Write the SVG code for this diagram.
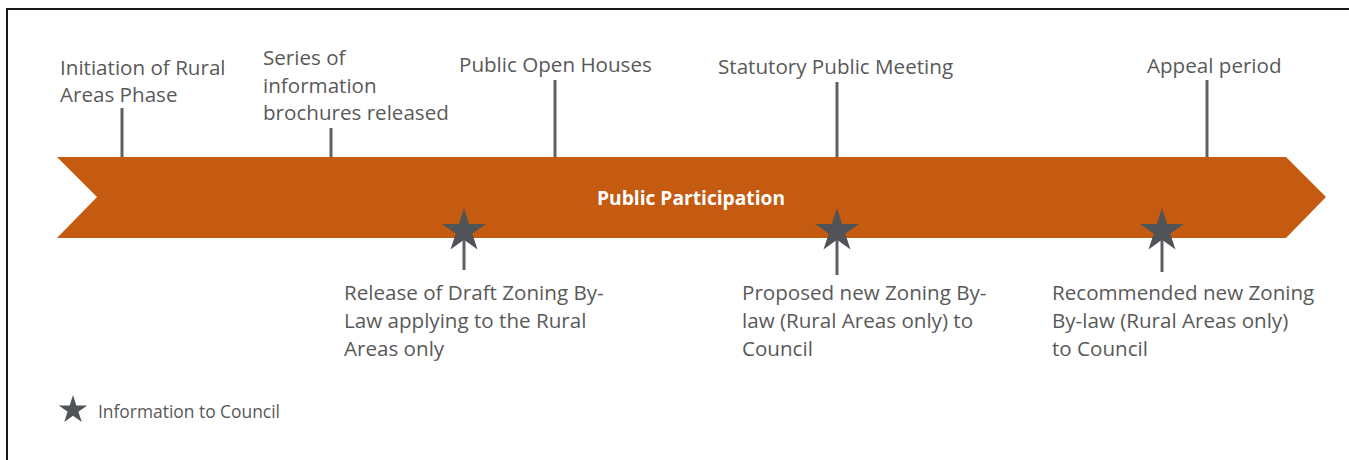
<svg xmlns="http://www.w3.org/2000/svg" width="1349" height="460" viewBox="0 0 1349 460">
  <style>
    .lbl { font-family: "Open Sans", "Liberation Sans", sans-serif; font-size: 20.6px; fill: #595959; }
    .band-title { font-family: "Open Sans", "Liberation Sans", sans-serif; font-size: 19.2px; font-weight: bold; fill: #ffffff; }
    .legend { font-family: "Open Sans", "Liberation Sans", sans-serif; font-size: 17.4px; fill: #595959; }
    .stem { stroke: #5f5f5f; stroke-width: 3; fill: none; }
    .star { fill: #505458; }
  </style>
  <defs>
    <!-- five-pointed star, outer radius 23, centred on the origin -->
    <polygon id="star" points="0,-23 5.1,-7 21.9,-7.1 8.3,2.7 13.5,18.6 0,8.8 -13.5,18.6 -8.3,2.7 -21.9,-7.1 -5.1,-7"/>
  </defs>

  <rect width="1349" height="460" fill="#ffffff"/>
  <!-- frame -->
  <path d="M7,460 V9 H1349" fill="none" stroke="#1a1a1a" stroke-width="2"/>

  <!-- timeline band -->
  <g id="band">
    <polygon points="57,157 1286,157 1326,197 1286,238 57,238 97,197" fill="#c55a11"/>
    <text class="band-title" x="691" y="205" text-anchor="middle">Public Participation</text>
  </g>

  <!-- stems connecting milestones to the band -->
  <g id="connectors">
    <line class="stem" x1="122" y1="108" x2="122" y2="157"/>
    <line class="stem" x1="331" y1="128" x2="331" y2="157"/>
    <line class="stem" x1="555" y1="80" x2="555" y2="157"/>
    <line class="stem" x1="837" y1="82" x2="837" y2="157"/>
    <line class="stem" x1="1207" y1="80" x2="1207" y2="157"/>
    <line class="stem" x1="464" y1="240" x2="464" y2="270"/>
    <line class="stem" x1="837" y1="240" x2="837" y2="275"/>
    <line class="stem" x1="1162" y1="240" x2="1162" y2="272"/>
  </g>

  <!-- milestones above the band -->
  <g id="initiation">
    <text class="lbl" x="60" y="75">Initiation of Rural</text>
    <text class="lbl" x="60" y="102">Areas Phase</text>
  </g>
  <g id="brochures">
    <text class="lbl" x="263" y="65">Series of</text>
    <text class="lbl" x="263" y="93">information</text>
    <text class="lbl" x="263" y="120">brochures released</text>
  </g>
  <g id="open-houses">
    <text class="lbl" x="459" y="72">Public Open Houses</text>
  </g>
  <g id="statutory-meeting">
    <text class="lbl" x="718" y="74">Statutory Public Meeting</text>
  </g>
  <g id="appeal">
    <text class="lbl" x="1147" y="73">Appeal period</text>
  </g>

  <!-- council information points below the band -->
  <g id="draft-release">
    <use href="#star" class="star" x="464" y="231"/>
    <text class="lbl" x="344" y="300">Release of Draft Zoning By-</text>
    <text class="lbl" x="344" y="328">Law applying to the Rural</text>
    <text class="lbl" x="344" y="356">Areas only</text>
  </g>
  <g id="proposed-bylaw">
    <use href="#star" class="star" x="837" y="231"/>
    <text class="lbl" x="742" y="300">Proposed new Zoning By-</text>
    <text class="lbl" x="742" y="328">law (Rural Areas only) to</text>
    <text class="lbl" x="742" y="356">Council</text>
  </g>
  <g id="recommended-bylaw">
    <use href="#star" class="star" x="1162" y="231"/>
    <text class="lbl" x="1052" y="300">Recommended new Zoning</text>
    <text class="lbl" x="1052" y="328">By-law (Rural Areas only)</text>
    <text class="lbl" x="1052" y="356">to Council</text>
  </g>

  <!-- legend -->
  <g id="legend">
    <use href="#star" class="star" transform="translate(73,410) scale(0.65)"/>
    <text class="legend" x="98" y="418">Information to Council</text>
  </g>
</svg>
